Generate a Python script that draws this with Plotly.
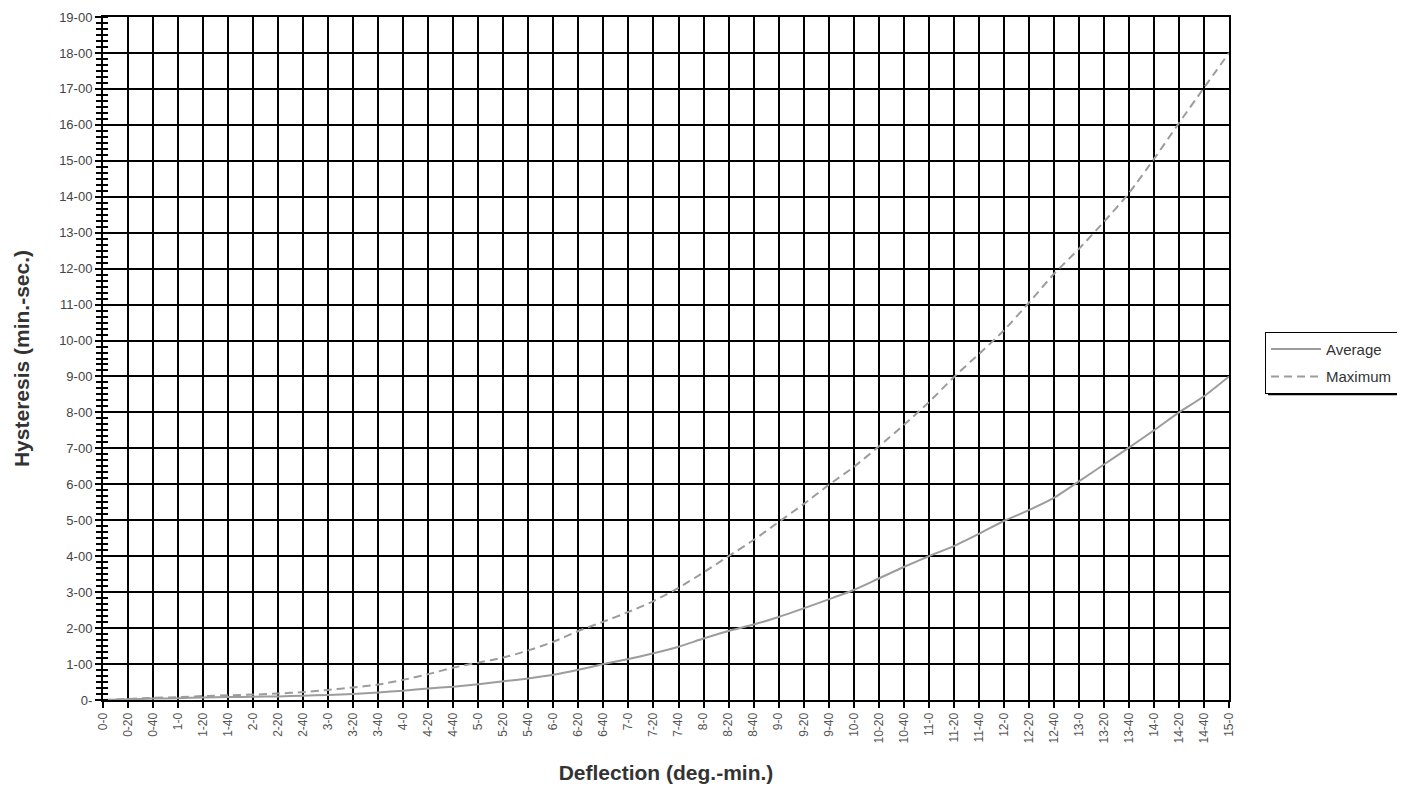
import plotly.graph_objects as go

# Deflection categories (deg.-min.)
deflection = [f"{d}-{m}" for d in range(15) for m in (0, 20, 40)] + ["15-0"]

# Hysteresis values in minutes (decimal)
average = [0.00, 0.02, 0.04, 0.05, 0.07, 0.08, 0.09, 0.10, 0.12, 0.14,
           0.17, 0.21, 0.26, 0.32, 0.37, 0.44, 0.52, 0.60, 0.70, 0.84,
           1.00, 1.14, 1.30, 1.48, 1.71, 1.92, 2.10, 2.31, 2.55, 2.80,
           3.06, 3.38, 3.70, 4.00, 4.28, 4.62, 4.98, 5.28, 5.62, 6.08,
           6.55, 7.02, 7.50, 8.00, 8.45, 9.00]
maximum = [0.00, 0.03, 0.06, 0.08, 0.11, 0.13, 0.15, 0.18, 0.22, 0.28,
           0.35, 0.43, 0.56, 0.72, 0.90, 1.04, 1.18, 1.38, 1.62, 1.92,
           2.18, 2.45, 2.75, 3.12, 3.55, 4.00, 4.45, 4.95, 5.45, 5.98,
           6.48, 7.05, 7.65, 8.28, 8.98, 9.62, 10.28, 11.05, 11.85, 12.55,
           13.30, 14.10, 15.05, 16.05, 17.03, 18.00]

y_tickvals = list(range(0, 20))
y_ticktext = ["0-"] + [f"{v}-00" for v in range(1, 20)]

FONT = "Arial, Liberation Sans, sans-serif"
LINE_COLOR = "#9c9c9c"

fig = go.Figure()
fig.add_trace(go.Scatter(
    x=deflection, y=average, name="Average", mode="lines", legendgroup="a",
    line=dict(color=LINE_COLOR, width=2, shape="spline", smoothing=0.6),
))
fig.add_trace(go.Scatter(
    x=deflection, y=maximum, name="Maximum", mode="lines", legendgroup="m",
    line=dict(color=LINE_COLOR, width=2, dash="8px,5px", shape="spline", smoothing=0.6),
))
# invisible trace to host the inside minor ticks on the overlay axis
fig.add_trace(go.Scatter(
    x=deflection, y=average, yaxis="y2", mode="lines", showlegend=False,
    hoverinfo="skip", line=dict(color="rgba(0,0,0,0)", width=0),
))

fig.update_layout(
    width=1405, height=786,
    paper_bgcolor="white", plot_bgcolor="white",
    margin=dict(l=95, r=184, t=9, b=94),
    font=dict(family=FONT, color="#333333"),
    xaxis=dict(
        type="category",
        automargin=False,
        tickangle=-90,
        tickfont=dict(size=12, color="#555555", family=FONT),
        ticks="outside", ticklen=6, tickcolor="black", tickwidth=2,
        showgrid=True, gridcolor="black", gridwidth=2,
        showline=True, linecolor="black", linewidth=2, mirror=True,
        range=[0, 45],
        title=dict(text="<b>Deflection (deg.-min.)</b>",
                   font=dict(size=21, color="#333333", family=FONT),
                   standoff=23),
        zeroline=False,
    ),
    yaxis=dict(
        automargin=False,
        range=[0, 19],
        tickvals=y_tickvals, ticktext=y_ticktext,
        tickfont=dict(size=13, color="#444444", family=FONT),
        ticks="outside", ticklen=6, tickcolor="black", tickwidth=2,
        minor=dict(dtick=1/6, ticks="outside", ticklen=5,
                   tickcolor="black", tickwidth=2, showgrid=False),
        showgrid=True, gridcolor="black", gridwidth=2,
        showline=True, linecolor="black", linewidth=2, mirror=True,
        zeroline=False,
        title=dict(text="<b>Hysteresis (min.-sec.)</b>",
                   font=dict(size=21, color="#333333", family=FONT),
                   standoff=24),
    ),
    yaxis2=dict(
        automargin=False,
        overlaying="y", side="left", range=[0, 19],
        tickvals=y_tickvals, showticklabels=False, ticks="",
        minor=dict(dtick=1/6, ticks="inside", ticklen=5,
                   tickcolor="black", tickwidth=2, showgrid=False),
        showgrid=False, zeroline=False, showline=False,
    ),
    legend=dict(
        x=1.032, y=0.539, xanchor="left", yanchor="top",
        bgcolor="white", bordercolor="black", borderwidth=1,
        font=dict(size=15, color="#333333", family=FONT),
        tracegroupgap=5, itemwidth=50,
    ),
    showlegend=True,
)

# legend drop shadow (bottom bar)
fig.add_shape(type="line", xref="paper", yref="paper",
              x0=1.0346, x1=1.16, y0=0.449, y1=0.449,
              line=dict(color="black", width=4))

fig.write_html("out.html")
